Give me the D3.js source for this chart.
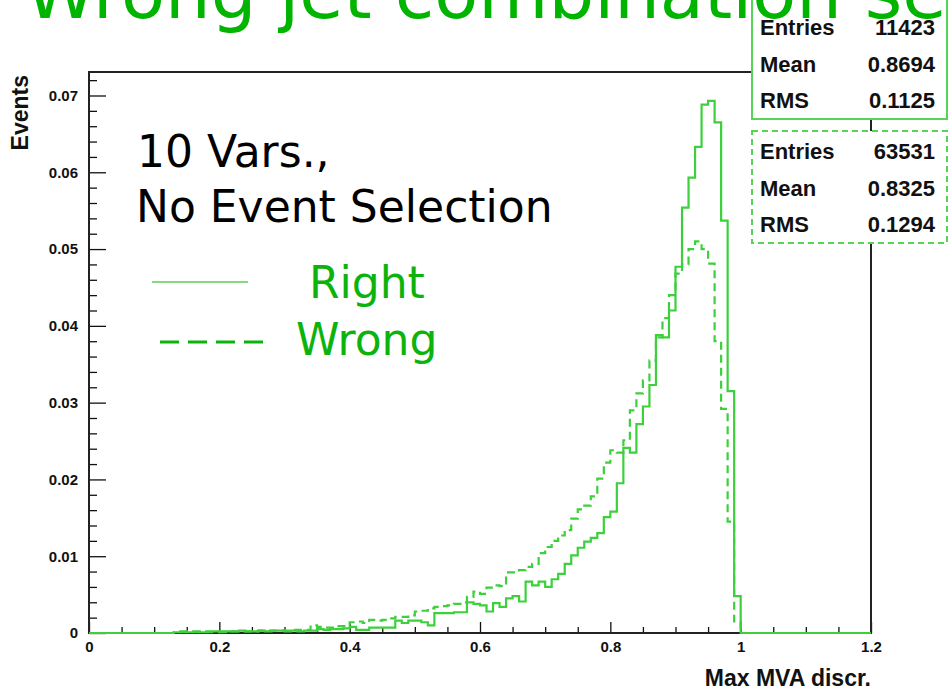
<!DOCTYPE html>
<meta charset="UTF-8">
<html>
<head>
<script src="https://d3js.org/d3.v7.min.js"></script>
<style>
  body { margin: 0; background: #fff; }
  svg text.bold { font-family: "Liberation Sans", Arial, sans-serif; font-weight: bold; fill: #111; }
  svg text.big { font-family: "DejaVu Sans", Verdana, sans-serif; }
</style>
</head>
<body>
<svg class="Hist"></svg>
<script>
// normalised MVA discriminant, 120 bins of 0.01 from 0 to 1.2
var rightVals = [
  0,0,0,0,0,0,0,0,0,0,0,0,0,
  0.0001,0.0002,0.0001,0.0002,0.0001,0.0002,0.0002,
  0.0001,0.0002,0.0002,0.0003,0.0002,0.0002,0.0003,0.0002,0.0003,0.0003,
  0.0002,0.0003,0.0002,0.0003,0.0003,0.0005,0.0004,0.0005,0.0005,0.0006,
  0.0008,0.0004,0.0004,0.0007,0.0007,0.0007,0.0007,0.0016,0.0013,0.0016,
  0.0016,0.0014,0.0010,0.0026,0.0026,0.0026,0.0027,0.0027,0.0040,0.0038,
  0.0036,0.0028,0.0039,0.0034,0.0045,0.0048,0.0041,0.0067,0.0062,0.0067,
  0.0060,0.0070,0.0077,0.0090,0.0101,0.0111,0.0119,0.0124,0.0130,0.0151,
  0.0158,0.0195,0.0241,0.0235,0.0272,0.0295,0.0323,0.0388,0.0385,0.0420,
  0.0477,0.0554,0.0593,0.0633,0.0688,0.0693,0.0665,0.0537,0.0315,0.0048,
  0,0,0,0,0,0,0,0,0,0,0,0,0,0,0,0,0,0,0,0
];
var wrongVals = [
  0,0,0,0,0,0,0,0,0,0,0,0,0,
  0.0001,0.0001,0.0001,0.0001,0.0001,0.0001,0.0001,
  0.0002,0.0002,0.0002,0.0002,0.0002,0.0002,0.0003,0.0003,0.0003,0.0003,
  0.0003,0.0004,0.0004,0.0004,0.0010,0.0008,0.0007,0.0007,0.0009,0.0009,
  0.0014,0.0015,0.0013,0.0017,0.0016,0.0017,0.0019,0.0021,0.0021,0.0023,
  0.0028,0.0029,0.0032,0.0034,0.0035,0.0036,0.0038,0.0040,0.0047,0.0054,
  0.0051,0.0059,0.0062,0.0061,0.0079,0.0079,0.0082,0.0086,0.0090,0.0104,
  0.0112,0.0120,0.0127,0.0134,0.0149,0.0161,0.0166,0.0178,0.0201,0.0222,
  0.0238,0.0235,0.0251,0.0290,0.0312,0.0329,0.0355,0.0385,0.0410,0.0440,
  0.0468,0.0480,0.0500,0.0510,0.0500,0.0481,0.0380,0.0292,0.0145,0.0015,
  0,0,0,0,0,0,0,0,0,0,0,0,0,0,0,0,0,0,0,0
];
var binLow = 0, binWidth = 0.01;
var xTicks = [0, 0.2, 0.4, 0.6, 0.8, 1, 1.2];
var yTicks = [0, 0.01, 0.02, 0.03, 0.04, 0.05, 0.06, 0.07];
var statNames = ["Entries", "Mean", "RMS"];
var rightStats = ["11423", "0.8694", "0.1125"];
var wrongStats = ["63531", "0.8325", "0.1294"];

var W = 948, H = 690;
var Frame = {Left: 89, Right: 871, Top: 72, Bottom: 633};
var lineGreen = "#3dd03d", textGreen = "#0cb30c";

var svg = d3.select(".Hist").attr("width", W).attr("height", H);

var XScale = d3.scaleLinear().domain([0, 1.2]).range([Frame.Left, Frame.Right]);
var YScale = d3.scaleLinear().domain([0, 0.07306]).range([Frame.Bottom, Frame.Top]);

// axes, ROOT style: ticks inside the frame
var xAxis = svg.append("g").attr("transform", "translate(0," + Frame.Bottom + ")");
xAxis.call(d3.axisTop(XScale).tickValues(d3.range(0, 1.2001, 0.05)).tickSize(6).tickFormat(""));
xAxis.call(function(g){ g.selectAll(".tick").filter(function(d){ return Math.abs(d*5 - Math.round(d*5)) < 1e-6; }).select("line").attr("y2", -11); });
xAxis.selectAll("line").attr("stroke", "#111").attr("stroke-width", 1.3);
xAxis.select(".domain").remove();
svg.append("g").attr("transform", "translate(0," + Frame.Bottom + ")")
   .call(d3.axisBottom(XScale).tickValues(xTicks).tickSize(0).tickPadding(8).tickFormat(d3.format("~g")))
   .call(function(g){ g.select(".domain").remove(); })
   .selectAll("text").attr("class", "bold").style("font-size", "15px");

var yAxis = svg.append("g").attr("transform", "translate(" + Frame.Left + ",0)");
yAxis.call(d3.axisRight(YScale).tickValues(d3.range(0, 0.0731, 0.002)).tickSize(8).tickFormat(""));
yAxis.call(function(g){ g.selectAll(".tick").filter(function(d){ return Math.abs(d*100 - Math.round(d*100)) < 1e-6; }).select("line").attr("x2", 17); });
yAxis.selectAll("line").attr("stroke", "#111").attr("stroke-width", 1.3);
yAxis.select(".domain").remove();
svg.append("g").attr("transform", "translate(" + Frame.Left + ",0)")
   .call(d3.axisLeft(YScale).tickValues(yTicks).tickSize(0).tickPadding(11).tickFormat(d3.format("~g")))
   .call(function(g){ g.select(".domain").remove(); })
   .selectAll("text").attr("class", "bold").style("font-size", "15px");

svg.append("rect")
   .attr("x", Frame.Left).attr("y", Frame.Top)
   .attr("width", Frame.Right - Frame.Left).attr("height", Frame.Bottom - Frame.Top)
   .attr("fill", "none").attr("stroke", "#222").attr("stroke-width", 2);

// histograms drawn as steps
function stepPoints(vals) {
  var pts = vals.map(function(v, i){ return [binLow + i*binWidth, v]; });
  pts.push([binLow + vals.length*binWidth, vals[vals.length-1]]);
  return pts;
}
var stepLine = d3.line()
   .x(function(d){ return XScale(d[0]); })
   .y(function(d){ return YScale(d[1]); })
   .curve(d3.curveStepAfter);

svg.append("path").datum(stepPoints(rightVals))
   .attr("d", stepLine).attr("fill", "none")
   .attr("stroke", lineGreen).attr("stroke-width", 2.2);
svg.append("path").datum(stepPoints(wrongVals))
   .attr("d", stepLine).attr("fill", "none")
   .attr("stroke", lineGreen).attr("stroke-width", 2.2)
   .attr("stroke-dasharray", "8,5");

// axis titles
svg.append("text").attr("class", "bold")
   .attr("transform", "translate(28," + 75 + ") rotate(-90)")
   .attr("text-anchor", "end").style("font-size", "23px").text("Events");
svg.append("text").attr("class", "bold")
   .attr("x", 871).attr("y", 686)
   .attr("text-anchor", "end").style("font-size", "23px").text("Max MVA discr.");

// stats boxes
function statBox(y0, h, first, vals, dashed) {
  var g = svg.append("g");
  g.append("rect").attr("x", 752).attr("y", y0).attr("width", 195).attr("height", h)
   .attr("fill", "#fff").attr("stroke", "#55d455").attr("stroke-width", 2)
   .attr("stroke-dasharray", dashed ? "6,4" : null);
  statNames.forEach(function(n, i){
    g.append("text").attr("class", "bold").attr("x", 760).attr("y", first + i*36.5)
     .style("font-size", "22px").text(n);
    g.append("text").attr("class", "bold").attr("x", 935).attr("y", first + i*36.5)
     .attr("text-anchor", "end").style("font-size", "22px").text(vals[i]);
  });
}
statBox(-10, 129, 35, rightStats, false);
statBox(131, 112, 159, wrongStats, true);

// title, cut by the top of the page
svg.append("text").attr("class", "big")
   .attr("x", 25).attr("y", 18)
   .attr("fill", "#00b400").style("font-size", "72px")
   .text("Wrong jet combination selection");

// in-plot legend
svg.append("text").attr("class", "big").attr("x", 137).attr("y", 167)
   .attr("fill", "#000").style("font-size", "44px").text("10 Vars.,");
svg.append("text").attr("class", "big").attr("x", 136).attr("y", 222)
   .attr("fill", "#000").style("font-size", "44px").text("No Event Selection");
svg.append("line").attr("x1", 152).attr("x2", 248).attr("y1", 282).attr("y2", 282)
   .attr("stroke", textGreen).attr("stroke-width", 1.2);
svg.append("line").attr("x1", 160).attr("x2", 264).attr("y1", 342).attr("y2", 342)
   .attr("stroke", textGreen).attr("stroke-width", 3).attr("stroke-dasharray", "19,9");
svg.append("text").attr("class", "big").attr("x", 309).attr("y", 298)
   .attr("fill", textGreen).style("font-size", "44px").text("Right");
svg.append("text").attr("class", "big").attr("x", 296).attr("y", 355)
   .attr("fill", textGreen).style("font-size", "44px").text("Wrong");
</script>
</body>
</html>
